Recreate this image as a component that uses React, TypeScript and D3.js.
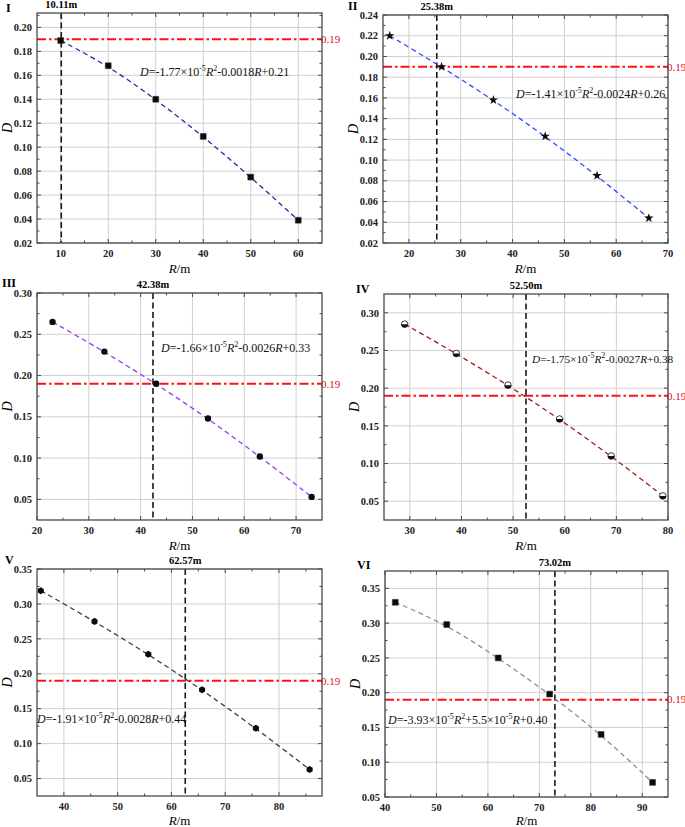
import { useEffect, useRef } from 'react'
import * as d3 from 'd3'

const W = 685
const H = 827
const THRESHOLD = 0.19

type Seg = { t: string; it?: boolean; sup?: boolean }

// ---- data ----
const panelNames = ['I', 'II', 'III', 'IV', 'V', 'VI']

const radiusI = [10, 20, 30, 40, 50, 60]
const dI = [0.189, 0.168, 0.14, 0.109, 0.075, 0.039]
const radiusII = [16.3, 26.3, 36.3, 46.3, 56.3, 66.3]
const dII = [0.22, 0.19, 0.158, 0.123, 0.085, 0.044]
const radiusIII = [23, 33, 43, 53, 63, 73]
const dIII = [0.265, 0.229, 0.19, 0.148, 0.102, 0.053]
const radiusIV = [29, 39, 49, 59, 69, 79]
const dIV = [0.285, 0.246, 0.204, 0.159, 0.11, 0.057]
const radiusV = [35.7, 45.7, 55.7, 65.7, 75.7, 85.7]
const dV = [0.319, 0.275, 0.228, 0.177, 0.122, 0.063]
const radiusVI = [42, 52, 62, 72, 82, 92]
const dVI = [0.33, 0.298, 0.25, 0.198, 0.14, 0.071]

const criticalR = [10.11, 25.38, 42.38, 52.5, 62.57, 73.02]
const criticalLabels = ['10.11m', '25.38m', '42.38m', '52.50m', '62.57m', '73.02m']

const xTicksI = [10, 20, 30, 40, 50, 60]
const xTicksII = [20, 30, 40, 50, 60, 70]
const xTicksIII = [20, 30, 40, 50, 60, 70]
const xTicksIV = [30, 40, 50, 60, 70, 80]
const xTicksV = [40, 50, 60, 70, 80]
const xTicksVI = [40, 50, 60, 70, 80, 90]

const yTicksI = [0.02, 0.04, 0.06, 0.08, 0.1, 0.12, 0.14, 0.16, 0.18, 0.2]
const yTicksII = [0.02, 0.04, 0.06, 0.08, 0.1, 0.12, 0.14, 0.16, 0.18, 0.2, 0.22, 0.24]
const yTicksIII = [0.05, 0.1, 0.15, 0.2, 0.25, 0.3]
const yTicksIV = [0.05, 0.1, 0.15, 0.2, 0.25, 0.3]
const yTicksV = [0.05, 0.1, 0.15, 0.2, 0.25, 0.3, 0.35]
const yTicksVI = [0.05, 0.1, 0.15, 0.2, 0.25, 0.3, 0.35]

const xDomains: [number, number][] = [[5, 65], [15, 70], [20, 75], [25, 80], [35, 88], [40, 95]]
const yDomains: [number, number][] = [
  [0.02, 0.212], [0.02, 0.24], [0.025, 0.3], [0.025, 0.325], [0.025, 0.35], [0.05, 0.375],
]

const eqI: Seg[] = [
  { t: 'D', it: true }, { t: '=-1.77×10' }, { t: '-5', sup: true }, { t: 'R', it: true },
  { t: '2', sup: true }, { t: '-0.0018' }, { t: 'R', it: true }, { t: '+0.21' },
]
const eqII: Seg[] = [
  { t: 'D', it: true }, { t: '=-1.41×10' }, { t: '-5', sup: true }, { t: 'R', it: true },
  { t: '2', sup: true }, { t: '-0.0024' }, { t: 'R', it: true }, { t: '+0.26' },
]
const eqIII: Seg[] = [
  { t: 'D', it: true }, { t: '=-1.66×10' }, { t: '-5', sup: true }, { t: 'R', it: true },
  { t: '2', sup: true }, { t: '-0.0026' }, { t: 'R', it: true }, { t: '+0.33' },
]
const eqIV: Seg[] = [
  { t: 'D', it: true }, { t: '=-1.75×10' }, { t: '-5', sup: true }, { t: 'R', it: true },
  { t: '2', sup: true }, { t: '-0.0027' }, { t: 'R', it: true }, { t: '+0.38' },
]
const eqV: Seg[] = [
  { t: 'D', it: true }, { t: '=-1.91×10' }, { t: '-5', sup: true }, { t: 'R', it: true },
  { t: '2', sup: true }, { t: '-0.0028' }, { t: 'R', it: true }, { t: '+0.44' },
]
const eqVI: Seg[] = [
  { t: 'D', it: true }, { t: '=-3.93×10' }, { t: '-5', sup: true }, { t: 'R', it: true },
  { t: '2', sup: true }, { t: '+5.5×10' }, { t: '-5', sup: true }, { t: 'R', it: true }, { t: '+0.40' },
]

// ---- layout / style ----
const frames = [
  { l: 37, r: 322, t: 13, b: 243 },
  { l: 383, r: 668, t: 15, b: 243 },
  { l: 37, r: 322, t: 293, b: 520 },
  { l: 384, r: 668, t: 294, b: 520 },
  { l: 37, r: 322, t: 569, b: 796 },
  { l: 385, r: 668, t: 571, b: 797 },
]
const nameAt = [[6, 12], [348, 10], [2, 287], [356, 293], [5, 564], [357, 569]]
const eqAt = [[140, 76], [516, 98], [161, 352], [532, 363], [37, 723], [388, 724]]
const eqSize = [12, 12, 12, 11.3, 12, 12]
const lineColors = ['#1f2d9c', '#2f4cff', '#9a3cf2', '#9c1c1c', '#3f3f3f', '#8c8c8c']
const markers = ['square', 'star', 'circle', 'half', 'hex', 'square']

const SERIF = '"Liberation Serif", "Times New Roman", serif'

const hexSymbol: d3.SymbolType = {
  draw(ctx, size) {
    const r = Math.sqrt((size * 2) / (3 * Math.sqrt(3)))
    for (let i = 0; i < 6; i++) {
      const a = (Math.PI / 3) * i + Math.PI / 6
      const x = r * Math.cos(a)
      const y = r * Math.sin(a)
      if (i === 0) ctx.moveTo(x, y)
      else ctx.lineTo(x, y)
    }
    ctx.closePath()
  },
}

const panels = [
  { r: radiusI, d: dI, xt: xTicksI, yt: yTicksI, eq: eqI },
  { r: radiusII, d: dII, xt: xTicksII, yt: yTicksII, eq: eqII },
  { r: radiusIII, d: dIII, xt: xTicksIII, yt: yTicksIII, eq: eqIII },
  { r: radiusIV, d: dIV, xt: xTicksIV, yt: yTicksIV, eq: eqIV },
  { r: radiusV, d: dV, xt: xTicksV, yt: yTicksV, eq: eqV },
  { r: radiusVI, d: dVI, xt: xTicksVI, yt: yTicksVI, eq: eqVI },
]

function minorTicks(ticks: number[], dom: [number, number]) {
  const step = ticks[1] - ticks[0]
  const out: number[] = []
  for (let v = ticks[0] - step / 2; v < dom[1] + 1e-9; v += step) {
    if (v > dom[0] + 1e-9 && v < dom[1] - 1e-9) out.push(v)
  }
  return out
}

export default function App() {
  const ref = useRef<SVGSVGElement>(null)

  useEffect(() => {
    const svg = d3.select(ref.current)
    svg.selectAll('*').remove()

    panels.forEach((p, k) => {
      const f = frames[k]
      const x = d3.scaleLinear().domain(xDomains[k]).range([f.l, f.r])
      const y = d3.scaleLinear().domain(yDomains[k]).range([f.b, f.t])
      const g = svg.append('g')
      const pts = p.r.map((r, i) => ({ r, d: p.d[i] }))

      // grid
      g.selectAll('line.gx')
        .data(p.xt)
        .join('line')
        .attr('x1', (d) => x(d)).attr('x2', (d) => x(d))
        .attr('y1', f.t).attr('y2', f.b)
        .attr('stroke', '#cfcfcf').attr('stroke-width', 1)
      g.selectAll('line.gy')
        .data(p.yt)
        .join('line')
        .attr('y1', (d) => y(d)).attr('y2', (d) => y(d))
        .attr('x1', f.l).attr('x2', f.r)
        .attr('stroke', '#cfcfcf').attr('stroke-width', 1)

      // threshold line
      g.append('line')
        .attr('x1', f.l).attr('x2', f.r)
        .attr('y1', y(THRESHOLD)).attr('y2', y(THRESHOLD))
        .attr('stroke', '#ff1010').attr('stroke-width', 2)
        .attr('stroke-dasharray', '9 3 2.5 3')
      g.append('text')
        .attr('x', f.r - 1).attr('y', y(THRESHOLD)).attr('dy', '0.35em')
        .attr('fill', '#e01010')
        .style('font-family', SERIF).style('font-size', '11px')
        .text(THRESHOLD.toFixed(2))

      // critical radius
      g.append('line')
        .attr('x1', x(criticalR[k])).attr('x2', x(criticalR[k]))
        .attr('y1', f.t).attr('y2', f.b)
        .attr('stroke', '#1a1a1a').attr('stroke-width', 1.6)
        .attr('stroke-dasharray', '6 3.5')
      g.append('text')
        .attr('x', x(criticalR[k])).attr('y', f.t - 5)
        .attr('text-anchor', 'middle')
        .style('font-family', SERIF).style('font-size', '10.5px').style('font-weight', 700)
        .text(criticalLabels[k])

      // smooth fitted trend through the points
      const line = d3
        .line<{ r: number; d: number }>()
        .x((d) => x(d.r))
        .y((d) => y(d.d))
        .curve(d3.curveBasis)
      g.append('path')
        .attr('d', line(pts) || '')
        .attr('fill', 'none')
        .attr('stroke', lineColors[k]).attr('stroke-width', 1.3)
        .attr('stroke-dasharray', '5 3.5')

      // markers
      const mk = markers[k]
      const mg = g.selectAll('g.mk').data(pts).join('g')
        .attr('transform', (d) => `translate(${x(d.r)},${y(d.d)})`)
      if (mk === 'half') {
        mg.append('circle').attr('r', 3.3).attr('fill', '#fff').attr('stroke', '#111').attr('stroke-width', 0.8)
        const half = d3.arc()({ innerRadius: 0, outerRadius: 3.3, startAngle: Math.PI / 2, endAngle: (3 * Math.PI) / 2 })
        mg.append('path').attr('d', half || '').attr('fill', '#111')
      } else {
        const type =
          mk === 'square' ? d3.symbolSquare : mk === 'star' ? d3.symbolStar : mk === 'circle' ? d3.symbolCircle : hexSymbol
        const size = mk === 'square' ? 34 : mk === 'star' ? 28 : 32
        mg.append('path')
          .attr('d', d3.symbol().type(type).size(size)() || '')
          .attr('fill', '#0a0a0a')
          .attr('stroke', mk === 'square' ? '#333' : 'none')
          .attr('stroke-width', 0.6)
      }

      // frame
      g.append('rect')
        .attr('x', f.l).attr('y', f.t)
        .attr('width', f.r - f.l).attr('height', f.b - f.t)
        .attr('fill', 'none').attr('stroke', '#4a4a4a').attr('stroke-width', 1.3)

      // inward ticks (major + minor) on all sides
      const xm = minorTicks(p.xt, xDomains[k])
      const ym = minorTicks(p.yt, yDomains[k])
      const tickStroke = '#4a4a4a'
      const xt = [...p.xt.map((v) => ({ v, L: 4 })), ...xm.map((v) => ({ v, L: 2.5 }))]
      const yt = [...p.yt.map((v) => ({ v, L: 4 })), ...ym.map((v) => ({ v, L: 2.5 }))]
      xt.forEach(({ v, L }) => {
        g.append('line').attr('x1', x(v)).attr('x2', x(v)).attr('y1', f.b).attr('y2', f.b - L).attr('stroke', tickStroke)
        g.append('line').attr('x1', x(v)).attr('x2', x(v)).attr('y1', f.t).attr('y2', f.t + L).attr('stroke', tickStroke)
      })
      yt.forEach(({ v, L }) => {
        g.append('line').attr('y1', y(v)).attr('y2', y(v)).attr('x1', f.l).attr('x2', f.l + L).attr('stroke', tickStroke)
        g.append('line').attr('y1', y(v)).attr('y2', y(v)).attr('x1', f.r).attr('x2', f.r - L).attr('stroke', tickStroke)
      })

      // tick labels
      g.selectAll('text.xl')
        .data(p.xt)
        .join('text')
        .attr('x', (d) => x(d)).attr('y', f.b + 14)
        .attr('text-anchor', 'middle')
        .style('font-family', SERIF).style('font-size', '10.5px').style('font-weight', 700)
        .attr('fill', '#222')
        .text((d) => String(d))
      g.selectAll('text.yl')
        .data(p.yt)
        .join('text')
        .attr('x', f.l - 5).attr('y', (d) => y(d)).attr('dy', '0.35em')
        .attr('text-anchor', 'end')
        .style('font-family', SERIF).style('font-size', '10.5px').style('font-weight', 700)
        .attr('fill', '#222')
        .text((d) => d3.format('.2f')(d))

      // axis titles
      const xl = g.append('text')
        .attr('x', (f.l + f.r) / 2).attr('y', Math.min(f.b + 30, 825))
        .attr('text-anchor', 'middle')
        .style('font-family', SERIF).style('font-size', '13px')
      xl.append('tspan').style('font-style', 'italic').text('R')
      xl.append('tspan').text('/m')
      g.append('text')
        .attr('transform', `translate(${f.l - 25},${(f.t + f.b) / 2}) rotate(-90)`)
        .attr('text-anchor', 'middle')
        .style('font-family', SERIF).style('font-size', '14px').style('font-style', 'italic')
        .text('D')

      // panel name
      g.append('text')
        .attr('x', nameAt[k][0]).attr('y', nameAt[k][1])
        .style('font-family', SERIF).style('font-size', '12px').style('font-weight', 700)
        .text(panelNames[k])

      // equation
      const et = g.append('text')
        .attr('x', eqAt[k][0]).attr('y', eqAt[k][1])
        .style('font-family', SERIF).style('font-size', `${eqSize[k]}px`)
        .attr('fill', '#111')
      let up = false
      p.eq.forEach((s) => {
        const ts = et.append('tspan').text(s.t)
        if (s.it) ts.style('font-style', 'italic')
        if (s.sup) {
          ts.attr('dy', up ? 0 : -5).style('font-size', '8px')
          up = true
        } else if (up) {
          ts.attr('dy', 5)
          up = false
        }
      })
    })
  }, [])

  return (
    <svg
      ref={ref}
      width={W}
      height={H}
      viewBox={`0 0 ${W} ${H}`}
      style={{ position: 'absolute', left: 0, top: 0, background: '#fff' }}
    />
  )
}
